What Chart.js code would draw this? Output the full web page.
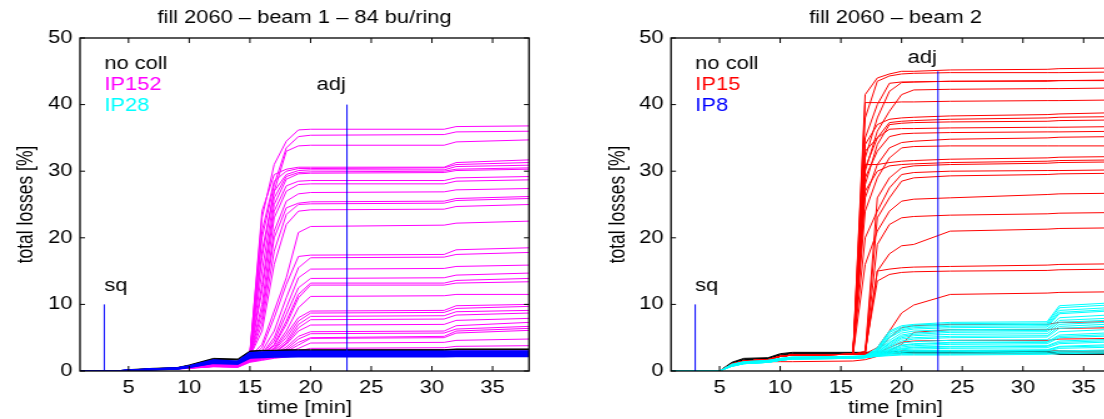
<!DOCTYPE html>
<html><head><meta charset="utf-8">
<script src="https://cdn.jsdelivr.net/npm/chart.js@4.4.1/dist/chart.umd.min.js"></script>
<style>
html,body{margin:0;padding:0;background:#fff;overflow:hidden;width:1104px;height:419px;}
.panel{position:absolute;top:0;height:430px;transform:scaleX(1.25);transform-origin:0 0;}
#p1{left:0;width:442px;}
#p2{left:552px;width:480px;}
</style></head><body>
<div class="panel" id="p1"><canvas id="c1" width="442" height="430"></canvas></div>
<div class="panel" id="p2"><canvas id="c2" width="480" height="430"></canvas></div>
<script>
// ---------- tick labels ----------
const xTicks = [5, 10, 15, 20, 25, 30, 35];
const yTicks = [0, 10, 20, 30, 40, 50];

// ---------- event markers ----------
const sqTime = 3, sqTop = 10;
const adjTime = 23, adjTopBeam1 = 40, adjTopBeam2 = 45;

// ---------- beam 1 (left) ----------
const beam1Times = [1, 4, 5, 7, 9, 10, 12, 14, 15, 16, 17, 18, 19, 20, 31, 32, 38];
const beam1NoColl = [
  [0,0,0.2,0.4,0.5,0.9,1.9,1.8,3.0,3.1,3.1,3.2,3.2,3.2,3.2,3.3,3.3],
  [0,0,0.15,0.35,0.5,0.85,1.8,1.7,2.95,3.05,3.05,3.1,3.1,3.1,3.15,3.25,3.25],
  [0,0,0.1,0.3,0.45,0.8,1.75,1.65,2.9,3.0,3.0,3.05,3.05,3.05,3.1,3.2,3.2]
];
const beam1IP28 = [
  [0,0,0.1,0.3,0.45,0.75,1.65,1.45,2.75,2.85,2.9,2.92,2.95,2.95,2.95,3.0,3.0],
  [0,0,0.1,0.3,0.45,0.72,1.6,1.4,2.65,2.75,2.8,2.82,2.85,2.85,2.85,2.9,2.9],
  [0,0,0.1,0.28,0.42,0.7,1.52,1.35,2.55,2.65,2.7,2.72,2.75,2.75,2.75,2.8,2.8],
  [0,0,0.08,0.27,0.4,0.68,1.45,1.3,2.45,2.55,2.6,2.62,2.65,2.65,2.65,2.7,2.7],
  [0,0,0.08,0.25,0.38,0.65,1.4,1.25,2.35,2.45,2.5,2.52,2.55,2.55,2.55,2.6,2.6],
  [0,0,0.07,0.24,0.36,0.62,1.35,1.2,2.25,2.35,2.4,2.42,2.45,2.45,2.45,2.5,2.5],
  [0,0,0.06,0.22,0.34,0.6,1.3,1.15,2.15,2.25,2.3,2.32,2.35,2.35,2.35,2.4,2.4],
  [0,0,0.05,0.2,0.32,0.58,1.22,1.1,2.05,2.15,2.2,2.22,2.25,2.25,2.25,2.3,2.3],
  [0,0,0.05,0.18,0.3,0.55,1.15,1.05,1.95,2.05,2.1,2.12,2.15,2.15,2.15,2.2,2.2]
];
const beam1IP152 = [
  [0,0,0.1,0.3,0.4,0.6,1.1,1.0,2.8,23,31,34.5,36.2,36.3,36.3,36.7,36.8],
  [0,0,0.1,0.3,0.4,0.6,1.1,1.0,2.6,20,28,33.5,35.2,35.4,35.5,35.9,36.0],
  [0,0,0.1,0.3,0.4,0.6,1.0,0.95,2.5,17,27,33,33.8,33.9,33.9,34.4,34.7],
  [0,0,0.1,0.3,0.4,0.6,1.0,0.95,2.6,24,29.5,30.3,30.6,30.6,30.6,31.3,31.7],
  [0,0,0.1,0.3,0.4,0.6,1.0,0.9,2.5,21,28.5,30,30.4,30.4,30.5,31.0,31.3],
  [0,0,0.1,0.3,0.4,0.6,1.0,0.9,2.5,18,27,29.5,30.1,30.2,30.2,30.7,30.9],
  [0,0,0.1,0.3,0.4,0.6,1.0,0.9,2.4,15,26,29.2,29.8,29.9,30.0,30.3,30.5],
  [0,0,0.1,0.3,0.4,0.6,0.95,0.9,2.4,13,25,28.8,29.6,29.7,29.8,30.1,30.3],
  [0,0,0.1,0.3,0.4,0.6,0.95,0.9,2.3,12,24,27.8,28.5,28.6,28.6,29.0,29.2],
  [0,0,0.1,0.3,0.4,0.6,0.95,0.85,2.3,10,23,27,28.0,28.1,28.1,28.5,28.7],
  [0,0,0.1,0.3,0.4,0.55,0.95,0.85,2.3,9,21,25.5,26.6,26.8,26.9,27.2,27.4],
  [0,0,0.1,0.3,0.4,0.55,0.9,0.85,2.2,8,20,24.5,25.2,25.4,25.5,25.9,26.2],
  [0,0,0.1,0.3,0.4,0.55,0.9,0.85,2.2,7,18,23.5,25.0,25.1,25.2,25.6,25.9],
  [0,0,0.1,0.3,0.4,0.55,0.9,0.8,2.2,6,16,22,24.0,24.2,24.3,24.7,25.0],
  [0,0,0.1,0.3,0.4,0.55,0.9,0.8,2.1,4,9,14,20.8,21.7,21.9,22.2,22.5],
  [0,0,0.1,0.3,0.4,0.55,0.9,0.8,2.1,3.5,8,13,17.2,17.4,17.5,18.2,18.5],
  [0,0,0.1,0.3,0.4,0.5,0.85,0.8,2.0,3,6,11,15.5,17.0,17.1,17.5,17.8],
  [0,0,0.1,0.3,0.4,0.5,0.85,0.8,2.0,2.6,5,9.5,14,15.3,15.4,15.7,15.9],
  [0,0,0.1,0.3,0.4,0.5,0.85,0.75,2.0,2.5,4.5,8.5,12.5,13.9,14.0,14.4,14.7],
  [0,0,0.1,0.3,0.4,0.5,0.85,0.75,1.9,2.4,4,7.5,11.5,13.2,13.2,13.6,13.9],
  [0,0,0.1,0.3,0.4,0.5,0.8,0.75,1.9,2.4,3.8,7,11,12.9,12.9,13.2,13.4],
  [0,0,0.1,0.3,0.4,0.5,0.8,0.75,1.8,2.3,3.5,6,9.5,11.2,11.3,11.5,11.5],
  [0,0,0.1,0.3,0.4,0.5,0.8,0.7,1.8,2.3,3.3,5.5,8,9.0,9.1,9.8,10.0],
  [0,0,0.1,0.3,0.4,0.5,0.8,0.7,1.8,2.2,3.2,5,7.5,8.7,8.8,9.4,9.7],
  [0,0,0.1,0.3,0.4,0.5,0.8,0.7,1.7,2.2,3.0,4.5,7,8.2,8.3,8.9,9.1],
  [0,0,0.1,0.25,0.35,0.5,0.75,0.7,1.7,2.1,2.8,4.2,6.5,7.7,7.8,8.4,8.7],
  [0,0,0.1,0.25,0.35,0.5,0.75,0.7,1.7,2.1,2.7,4,6,6.9,7.0,7.6,7.9],
  [0,0,0.1,0.25,0.35,0.5,0.75,0.7,1.6,2.0,2.6,3.6,5.2,5.9,6.0,6.8,7.3],
  [0,0,0.1,0.25,0.35,0.45,0.75,0.65,1.6,2.0,2.5,3.3,4.8,5.6,5.7,6.3,6.7],
  [0,0,0.1,0.25,0.35,0.45,0.7,0.65,1.5,1.9,2.4,3.1,4.3,5.0,5.2,6.0,6.4],
  [0,0,0.1,0.25,0.35,0.45,0.7,0.65,1.5,1.9,2.3,2.9,3.9,4.9,5.0,5.7,6.1],
  [0,0,0.1,0.25,0.35,0.45,0.7,0.6,1.5,1.8,2.2,2.7,3.4,4.2,4.3,4.6,4.8],
  [0,0,0.1,0.25,0.35,0.45,0.7,0.6,1.4,1.8,2.1,2.5,3.0,3.4,3.5,3.7,3.8],
  [0,0,0.1,0.2,0.3,0.4,0.65,0.6,1.4,1.7,2.0,2.3,2.6,2.8,2.9,3.0,3.0],
  [0,0,0.1,0.2,0.3,0.4,0.65,0.55,1.3,1.6,1.9,2.1,2.3,2.5,2.6,2.7,2.7]
];

// ---------- beam 2 (right) ----------
const beam2Times = [1, 4, 5, 6, 7, 9, 10, 11, 16, 17, 18, 19, 20, 21, 24, 32, 33, 38];
const beam2NoColl = [
  [0,0,0,1.3,1.9,2.0,2.6,2.8,2.8,2.8,2.85,2.9,2.9,2.9,2.9,2.9,2.7,2.7],
  [0,0,0,1.2,1.8,1.9,2.5,2.7,2.7,2.7,2.75,2.8,2.8,2.8,2.8,2.8,2.6,2.6],
  [0,0,0,1.1,1.7,1.85,2.4,2.6,2.6,2.6,2.65,2.7,2.7,2.7,2.7,2.7,2.5,2.5],
  [0,0,0,1.0,1.6,1.8,2.3,2.5,2.5,2.55,2.6,2.7,3.0,3.0,3.0,3.0,3.0,3.0]
];
const beam2IP15 = [
  [0,0,0,1.0,1.5,1.7,2.2,2.4,2.5,41.5,44.0,44.6,45.0,45.0,45.2,45.3,45.4,45.5],
  [0,0,0,1.0,1.5,1.7,2.2,2.4,2.5,38,43.5,44.3,44.6,44.7,44.8,44.8,44.8,44.9],
  [0,0,0,1.0,1.5,1.7,2.2,2.4,2.5,35,40,43.2,43.4,43.4,43.5,43.6,43.6,43.7],
  [0,0,0,1.0,1.5,1.7,2.2,2.4,2.5,32,38,42,43.3,43.4,43.5,43.5,43.6,43.6],
  [0,0,0,1.0,1.5,1.7,2.2,2.4,2.5,30,36,39,41.5,42.2,42.3,42.4,42.4,42.5],
  [0,0,0,1.0,1.5,1.7,2.2,2.4,2.5,40.3,40.3,40.3,40.4,40.4,40.5,40.6,40.6,40.7],
  [0,0,0,1.0,1.5,1.7,2.2,2.4,2.5,34,37,37.8,38.0,38.1,38.3,38.5,38.6,38.8],
  [0,0,0,1.0,1.5,1.7,2.2,2.4,2.5,30.5,35,37.3,37.5,37.6,37.8,38.0,38.1,38.2],
  [0,0,0,1.0,1.5,1.7,2.2,2.4,2.5,28,34,37,37.2,37.3,37.4,37.5,37.6,37.7],
  [0,0,0,1.0,1.5,1.7,2.2,2.4,2.5,33,35,36.3,36.4,36.4,36.5,36.6,36.6,36.7],
  [0,0,0,1.0,1.5,1.7,2.2,2.4,2.5,29,33,35.2,35.6,35.7,35.8,35.9,35.9,36.0],
  [0,0,0,1.0,1.5,1.7,2.2,2.4,2.5,26,31,33.5,34.3,34.5,34.8,35.0,35.1,35.2],
  [0,0,0,1.0,1.5,1.7,2.2,2.4,2.5,24,29,32,33.5,33.7,33.8,33.8,33.8,33.8],
  [0,0,0,1.0,1.5,1.7,2.2,2.4,2.5,31,31,31.3,31.5,31.6,31.8,32.0,32.1,32.2],
  [0,0,0,1.0,1.5,1.7,2.2,2.4,2.5,27,30,30.8,31.0,31.1,31.3,31.5,31.6,31.7],
  [0,0,0,1.0,1.5,1.7,2.2,2.4,2.5,2.7,26,29,30.5,30.8,31.0,31.2,31.3,31.4],
  [0,0,0,1.0,1.5,1.7,2.2,2.4,2.5,20,24,27.5,29.5,29.8,30.0,30.1,30.1,30.2],
  [0,0,0,1.0,1.5,1.7,2.2,2.4,2.5,2.6,23,26,28.5,29.0,29.3,29.5,29.6,29.7],
  [0,0,0,1.0,1.5,1.7,2.2,2.4,2.5,16,21,24,25.5,25.8,26.0,26.5,26.6,26.7],
  [0,0,0,1.0,1.5,1.7,2.2,2.4,2.5,2.6,19,22,23,23.2,23.4,23.6,23.7,23.8],
  [0,0,0,1.0,1.5,1.7,2.2,2.4,2.5,2.6,15,17.6,18.8,19.0,21.0,21.3,21.4,21.5],
  [0,0,0,1.0,1.5,1.7,2.2,2.4,2.5,2.8,15.0,15.3,15.5,15.6,15.7,15.9,16.0,16.1],
  [0,0,0,1.0,1.5,1.7,2.2,2.4,2.5,3.0,13.5,14.5,14.8,14.9,15.0,15.1,15.2,15.3],
  [0,0,0,1.0,1.5,1.7,2.2,2.4,2.5,2.6,3.5,6.0,8.7,9.9,11.5,11.7,11.8,11.9],
  [0,0,0,1.0,1.5,1.7,2.2,2.4,2.5,2.6,3.0,5.0,6.5,6.8,7.0,7.0,7.3,7.4],
  [0,0,0,1.0,1.5,1.7,2.2,2.4,2.5,2.6,2.7,3.5,4.3,4.5,4.6,4.6,4.8,4.9],
  [0,0,0,1.0,1.3,1.4,1.4,1.4,1.5,1.7,2.2,3.0,4.0,5.8,6.2,6.2,6.4,6.5]
];
const beam2IP8 = [
  [0,0,0,1.0,1.4,1.6,1.9,2.1,2.2,2.3,3.5,6.0,6.8,7.0,7.3,7.4,9.8,10.3],
  [0,0,0,1.0,1.4,1.6,1.9,2.1,2.2,2.3,3.3,5.8,6.6,6.9,7.1,7.2,9.5,10.0],
  [0,0,0,0.9,1.3,1.5,1.8,2.0,2.1,2.2,3.2,5.5,6.4,6.7,6.9,7.0,9.1,9.6],
  [0,0,0,0.9,1.3,1.5,1.8,2.0,2.1,2.2,3.1,5.2,6.2,6.5,6.7,6.8,8.8,9.3],
  [0,0,0,0.9,1.3,1.5,1.8,2.0,2.1,2.2,3.0,5.0,6.0,6.3,6.5,6.6,8.6,9.1],
  [0,0,0,0.9,1.3,1.5,1.8,2.0,2.1,2.2,2.9,4.6,5.7,6.0,6.2,6.3,8.0,8.5],
  [0,0,0,0.9,1.3,1.5,1.8,2.0,2.1,2.2,2.8,4.3,5.4,5.7,6.0,6.1,7.6,8.0],
  [0,0,0,0.85,1.25,1.45,1.75,1.95,2.05,2.15,2.7,4.2,5.2,5.5,5.8,5.9,7.3,7.7],
  [0,0,0,0.85,1.25,1.45,1.75,1.95,2.05,2.15,2.8,4.0,5.0,5.3,5.5,5.6,7.0,7.4],
  [0,0,0,0.85,1.25,1.45,1.75,1.95,2.05,2.15,2.6,3.8,4.8,5.0,5.2,5.3,6.7,7.1],
  [0,0,0,0.85,1.25,1.45,1.75,1.95,2.05,2.15,2.7,3.7,4.5,4.8,5.0,5.1,6.4,6.8],
  [0,0,0,0.8,1.2,1.4,1.7,1.9,2.0,2.1,2.6,3.5,4.2,4.4,4.6,4.7,5.9,6.3],
  [0,0,0,0.8,1.2,1.4,1.7,1.9,2.0,2.1,2.6,3.3,3.9,4.1,4.3,4.4,5.4,5.8],
  [0,0,0,0.8,1.2,1.4,1.7,1.9,2.0,2.1,2.5,3.2,3.8,4.0,4.2,4.3,5.2,5.5],
  [0,0,0,0.8,1.2,1.4,1.7,1.9,2.0,2.1,2.5,3.1,3.6,3.8,4.0,4.1,5.0,5.3],
  [0,0,0,0.8,1.2,1.4,1.7,1.9,2.0,2.1,2.5,3.0,3.4,3.6,3.7,3.8,4.5,4.8],
  [0,0,0,0.75,1.15,1.35,1.65,1.85,1.95,2.05,2.4,2.9,3.3,3.5,3.6,3.7,4.3,4.6],
  [0,0,0,0.75,1.15,1.35,1.65,1.85,1.95,2.05,2.4,2.8,3.2,3.3,3.4,3.5,4.1,4.4],
  [0,0,0,0.75,1.15,1.35,1.65,1.85,1.95,2.05,2.4,2.7,3.0,3.1,3.1,3.2,3.7,4.0],
  [0,0,0,0.7,1.1,1.3,1.6,1.8,1.9,2.0,2.3,2.7,2.9,3.0,3.0,3.1,3.6,3.8],
  [0,0,0,0.7,1.1,1.3,1.6,1.8,1.9,2.0,2.3,2.6,2.8,2.9,2.9,3.0,3.4,3.6],
  [0,0,0,0.7,1.1,1.3,1.6,1.8,1.9,2.0,2.3,2.5,2.6,2.7,2.7,2.8,3.0,3.2],
  [0,0,0,0.7,1.1,1.3,1.6,1.8,1.9,2.0,2.2,2.4,2.5,2.5,2.5,2.6,2.8,2.9],
  [0,0,0,0.7,1.1,1.3,1.6,1.8,1.9,2.0,2.2,2.3,2.4,2.4,2.4,2.5,2.6,2.7]
];

// ---------- rendering ----------
const FONT = '"Liberation Sans", Arial, Helvetica, sans-serif';
const FS = 17.5;
const BLUE = '#0000ff', MAGENTA = '#ff00ff', CYAN = '#00ffff', RED = '#ff0000', BLACK = '#000000';

function pts(times, vals) { return times.map((t, i) => ({x: t, y: vals[i]})); }
function lineDs(data, color, width) {
  return {data, borderColor: color, borderWidth: width, pointRadius: 0, tension: 0, fill: false};
}

const boxPlugin = {
  id: 'boxTicks',
  afterDatasetsDraw(chart) {
    const {ctx, chartArea: a, scales: {x, y}} = chart;
    ctx.save();
    ctx.strokeStyle = '#000';
    ctx.lineWidth = 1.3;
    ctx.strokeRect(a.left, a.top, a.right - a.left, a.bottom - a.top);
    ctx.lineWidth = 1;
    ctx.beginPath();
    x.ticks.forEach(t => {
      const px = x.getPixelForValue(t.value);
      ctx.moveTo(px, a.bottom); ctx.lineTo(px, a.bottom - 5);
      ctx.moveTo(px, a.top); ctx.lineTo(px, a.top + 5);
    });
    y.ticks.forEach(t => {
      const py = y.getPixelForValue(t.value);
      ctx.moveTo(a.left, py); ctx.lineTo(a.left + 4, py);
      ctx.moveTo(a.right, py); ctx.lineTo(a.right - 4, py);
    });
    ctx.stroke();
    ctx.restore();
  }
};

const notesPlugin = {
  id: 'notes',
  afterDatasetsDraw(chart, args, opts) {
    const {ctx, scales: {x, y}} = chart;
    ctx.save();
    ctx.font = FS + 'px ' + FONT;
    ctx.textAlign = 'left';
    ctx.textBaseline = 'alphabetic';
    (opts.items || []).forEach(n => {
      ctx.fillStyle = n.color;
      ctx.fillText(n.text, x.getPixelForValue(n.x), y.getPixelForValue(n.y));
    });
    ctx.restore();
  }
};

function buildChart(id, cfg) {
  const datasets = [];
  datasets.push(lineDs([{x: sqTime, y: 0}, {x: sqTime, y: sqTop}], BLUE, 1));
  datasets.push(lineDs([{x: adjTime, y: 0}, {x: adjTime, y: cfg.adjTop}], BLUE, 1));
  cfg.groups.forEach(g => g.series.forEach(s => datasets.push(lineDs(pts(cfg.times, s), g.color, g.width))));
  const font = {family: FONT, size: FS, weight: 'normal'};
  new Chart(document.getElementById(id), {
    type: 'line',
    data: {datasets},
    options: {
      responsive: false, animation: false, events: [],
      layout: {padding: {left: 0, right: cfg.padRight, top: 0, bottom: 0}},
      plugins: {
        legend: {display: false}, tooltip: {enabled: false},
        title: {display: true, text: cfg.title, color: '#000', font, padding: {top: 7.5, bottom: 9.5}, fullSize: false},
        notes: {items: cfg.notes}
      },
      scales: {
        x: {
          type: 'linear', min: 1, max: 38,
          grid: {display: false, drawTicks: false}, border: {display: false},
          afterBuildTicks: s => { s.ticks = xTicks.map(v => ({value: v})); },
          afterFit: s => { s.height = 59; },
          ticks: {color: '#000', font, padding: 7, maxRotation: 0, autoSkip: false},
          title: {display: true, text: 'time [min]', color: '#000', font, padding: {top: 0, bottom: 11.5}}
        },
        y: {
          type: 'linear', min: 0, max: 50,
          grid: {display: false, drawTicks: false}, border: {display: false},
          afterBuildTicks: s => { s.ticks = yTicks.map(v => ({value: v})); },
          afterFit: s => { s.width = cfg.yWidth; },
          ticks: {color: '#000', font, padding: 6},
          title: {display: true, text: 'total losses [%]', color: '#000', font, padding: {top: cfg.yTitlePad, bottom: 0}}
        }
      }
    },
    plugins: [boxPlugin, notesPlugin]
  });
}

buildChart('c1', {
  title: 'fill 2060 \u2013 beam 1 \u2013 84 bu/ring',
  times: beam1Times,
  adjTop: adjTopBeam1,
  padRight: 18.8, yWidth: 64, yTitlePad: 10.6,
  groups: [
    {series: beam1IP28, color: BLUE, width: 1.6},
    {series: beam1NoColl, color: BLACK, width: 1},
    {series: beam1IP152, color: MAGENTA, width: 1}
  ],
  notes: [
    {text: 'no coll', x: 3, y: 45.4, color: BLACK},
    {text: 'IP152', x: 3, y: 42.2, color: MAGENTA},
    {text: 'IP28', x: 3, y: 39.0, color: CYAN},
    {text: 'sq', x: 3, y: 12.0, color: BLACK},
    {text: 'adj', x: 20.5, y: 42.2, color: BLACK}
  ]
});

buildChart('c2', {
  title: 'fill 2060 \u2013 beam 2',
  times: beam2Times,
  adjTop: adjTopBeam2,
  padRight: 25.6, yWidth: 95.2, yTitlePad: 42.3,
  groups: [
    {series: beam2IP8, color: CYAN, width: 1},
    {series: beam2IP15, color: RED, width: 1},
    {series: beam2NoColl, color: BLACK, width: 1}
  ],
  notes: [
    {text: 'no coll', x: 3, y: 45.4, color: BLACK},
    {text: 'IP15', x: 3, y: 42.2, color: RED},
    {text: 'IP8', x: 3, y: 39.0, color: BLUE},
    {text: 'sq', x: 3, y: 12.0, color: BLACK},
    {text: 'adj', x: 20.5, y: 46.2, color: BLACK}
  ]
});
</script>
</body></html>
